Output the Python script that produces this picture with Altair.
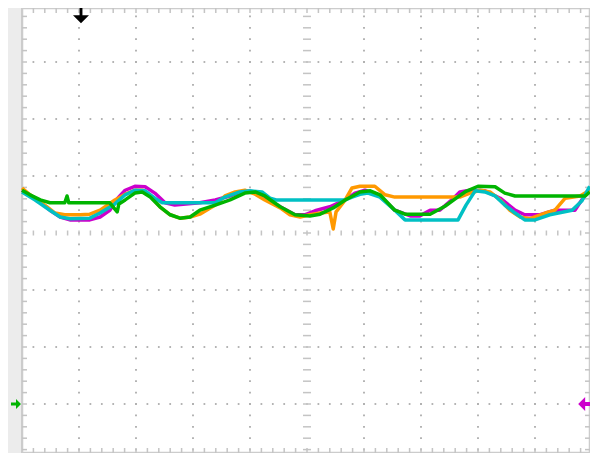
import altair as alt
import pandas as pd

# ---- trace data (time in divisions 0..10, level in divisions) ----
mag_t = [0.00, 0.23, 0.49, 0.67, 0.84, 1.19, 1.37, 1.54, 1.68, 1.81, 1.98, 2.16, 2.33, 2.51, 2.68, 3.12, 3.39, 3.65, 3.91, 4.09, 4.26, 4.53, 4.79, 4.96, 5.14, 5.40, 5.67, 5.84, 6.02, 6.28, 6.54, 6.81, 6.98, 7.16, 7.33, 7.54, 7.68, 7.86, 8.12, 8.39, 8.65, 8.82, 9.09, 9.35, 9.70, 9.82, 9.96]
mag_v = [0.75, 0.61, 0.40, 0.28, 0.23, 0.23, 0.28, 0.40, 0.61, 0.75, 0.82, 0.81, 0.70, 0.53, 0.49, 0.53, 0.58, 0.65, 0.74, 0.72, 0.61, 0.46, 0.32, 0.32, 0.39, 0.46, 0.58, 0.70, 0.75, 0.65, 0.40, 0.30, 0.30, 0.40, 0.40, 0.58, 0.72, 0.75, 0.74, 0.61, 0.40, 0.32, 0.32, 0.40, 0.40, 0.58, 0.75]

ora_t = [0.00, 0.14, 0.40, 0.58, 0.75, 1.02, 1.19, 1.37, 1.63, 1.81, 1.98, 2.11, 2.25, 2.42, 2.60, 2.77, 2.95, 3.12, 3.39, 3.56, 3.74, 3.91, 4.09, 4.26, 4.53, 4.70, 4.88, 5.05, 5.23, 5.40, 5.46, 5.51, 5.67, 5.79, 5.93, 6.19, 6.37, 6.54, 7.68, 7.86, 8.04, 8.21, 8.39, 8.56, 8.74, 8.91, 9.18, 9.35, 9.53, 9.79, 9.96]
ora_v = [0.79, 0.67, 0.49, 0.35, 0.32, 0.32, 0.33, 0.40, 0.58, 0.68, 0.75, 0.75, 0.65, 0.46, 0.32, 0.26, 0.28, 0.33, 0.49, 0.65, 0.72, 0.75, 0.68, 0.58, 0.44, 0.32, 0.28, 0.32, 0.35, 0.37, 0.07, 0.37, 0.58, 0.79, 0.82, 0.82, 0.67, 0.63, 0.63, 0.70, 0.75, 0.72, 0.58, 0.40, 0.28, 0.25, 0.35, 0.40, 0.61, 0.65, 0.75]

cya_t = [0.00, 0.23, 0.49, 0.67, 0.84, 1.19, 1.37, 1.63, 1.81, 1.98, 2.16, 2.33, 2.46, 3.39, 3.56, 3.82, 4.00, 4.21, 4.35, 4.46, 5.67, 5.79, 5.93, 6.07, 6.28, 6.54, 6.72, 7.65, 7.79, 7.95, 8.12, 8.30, 8.47, 8.65, 8.82, 9.00, 9.26, 9.65, 9.82, 9.96]
cya_v = [0.72, 0.58, 0.40, 0.28, 0.25, 0.26, 0.35, 0.51, 0.67, 0.75, 0.74, 0.61, 0.53, 0.53, 0.63, 0.72, 0.74, 0.72, 0.61, 0.58, 0.58, 0.63, 0.68, 0.70, 0.63, 0.40, 0.23, 0.23, 0.49, 0.74, 0.72, 0.65, 0.49, 0.35, 0.23, 0.23, 0.32, 0.40, 0.56, 0.82]

grn_t = [0.00, 0.14, 0.32, 0.49, 0.75, 0.79, 0.82, 1.54, 1.67, 1.70, 1.81, 1.98, 2.11, 2.25, 2.42, 2.60, 2.77, 2.95, 3.12, 3.39, 3.65, 3.91, 4.09, 4.26, 4.53, 4.79, 5.05, 5.23, 5.46, 5.67, 5.93, 6.11, 6.28, 6.54, 6.72, 7.16, 7.42, 7.60, 7.77, 8.00, 8.30, 8.47, 8.65, 9.88, 9.96]
grn_v = [0.75, 0.67, 0.58, 0.53, 0.53, 0.65, 0.53, 0.53, 0.37, 0.51, 0.58, 0.70, 0.72, 0.63, 0.46, 0.32, 0.26, 0.28, 0.40, 0.49, 0.58, 0.70, 0.72, 0.65, 0.46, 0.32, 0.30, 0.33, 0.44, 0.58, 0.72, 0.74, 0.67, 0.40, 0.33, 0.33, 0.47, 0.60, 0.72, 0.82, 0.81, 0.70, 0.65, 0.65, 0.72]

series = [("CH1", mag_t, mag_v, "#cc00cc"),
          ("CH2", ora_t, ora_v, "#ff9900"),
          ("CH3", cya_t, cya_v, "#00c0c4"),
          ("CH4", grn_t, grn_v, "#00b400")]

# ---- graticule definition (divisions, 57 px each) ----
PX = 57.0
view_w, view_h = 568, 445
t_min = 0.0
t_max = view_w / PX
v_top = 225.0 / PX
v_min = v_top - view_h / PX
major_t = [1, 2, 3, 4, 6, 7, 8, 9]
major_v = [-3, -2, -1, 1, 2, 3]
center_t, center_v = 5.0, 0.0
minor = 0.2

X = alt.Scale(domain=[t_min, t_max], nice=False, zero=False)
Y = alt.Scale(domain=[v_min, v_top], nice=False, zero=False)

def xe(f="t"):
    return alt.X(f"{f}:Q", scale=X, axis=None)

def ye(f="v"):
    return alt.Y(f"{f}:Q", scale=Y, axis=None)

# dots on major grid lines
dots = []
for t in major_t:
    for k in range(1, 40):
        v = -4 + k * minor
        if v_min < v < v_top:
            dots.append({"t": t, "v": v})
for v in major_v:
    for k in range(1, 50):
        dots.append({"t": k * minor, "v": v})
dots_df = pd.DataFrame(dots)

# ticks: center lines and frame
ticks = []
hl = 5.0 / PX / 2
vl = 8.0 / PX / 2
edge = 5.0 / PX
for k in range(1, 50):
    t = k * minor
    ticks.append({"t": t, "t2": t, "v": center_v - hl, "v2": center_v + hl})
    ticks.append({"t": t, "t2": t, "v": v_top - edge, "v2": v_top})
    ticks.append({"t": t, "t2": t, "v": v_min, "v2": v_min + edge})
for k in range(1, 40):
    v = -4 + k * minor
    if not (v_min < v < v_top):
        continue
    ticks.append({"t": center_t - vl, "t2": center_t + vl, "v": v, "v2": v})
    ticks.append({"t": t_min, "t2": t_min + edge, "v": v, "v2": v})
    ticks.append({"t": t_max - edge, "t2": t_max, "v": v, "v2": v})
ticks_df = pd.DataFrame(ticks)

strip_df = pd.DataFrame([{"t": -14 / PX, "t2": -0.02, "v": v_min, "v2": v_top}])

strip = alt.Chart(strip_df).mark_rect(color="#ececec").encode(
    x=xe("t"), x2="t2", y=ye("v"), y2="v2")

dot_layer = alt.Chart(dots_df).mark_square(size=3, color="#a8a8a8", opacity=1).encode(
    x=xe(), y=ye())

tick_layer = alt.Chart(ticks_df).mark_rule(color="#c4c4c4", strokeWidth=1.5).encode(
    x=xe("t"), x2="t2", y=ye("v"), y2="v2")

layers = [strip, dot_layer, tick_layer]
for name, ts, vs, col in series:
    df = pd.DataFrame({"t": ts, "v": vs, "ch": name})
    layers.append(alt.Chart(df).mark_line(color=col, strokeWidth=3.5, strokeJoin="round").encode(
        x=xe(), y=ye(), order="t:Q"))

# markers
ground_level = -3.0
trig_t = 1.035
trig_v = 3.82
arrow_down = "M-0.18,-1 L0.18,-1 L0.18,0 L1,0 L0,1 L-1,0 L-0.18,0 Z"
arrow_right = "M-1,-0.28 L0,-0.28 L0,-1 L1,0 L0,1 L0,0.28 L-1,0.28 Z"
arrow_left = "M1,-0.28 L0,-0.28 L0,-1 L-1,0 L0,1 L0,0.28 L1,0.28 Z"

m_trig = alt.Chart(pd.DataFrame([{"t": trig_t, "v": trig_v}])).mark_point(
    shape=arrow_down, size=256, filled=True, color="#000000", opacity=1).encode(x=xe(), y=ye())
m_gnd_l = alt.Chart(pd.DataFrame([{"t": -6 / PX, "v": ground_level}])).mark_point(
    shape=arrow_right, size=100, filled=True, color="#00b400", opacity=1).encode(x=xe(), y=ye())
m_gnd_r = alt.Chart(pd.DataFrame([{"t": 9.88, "v": ground_level}])).mark_point(
    shape=arrow_left, size=196, filled=True, color="#cc00cc", opacity=1).encode(x=xe(), y=ye())

layers += [m_trig, m_gnd_l, m_gnd_r]

chart = alt.layer(*layers).properties(
    width=view_w, height=view_h,
    autosize=alt.AutoSizeParams(type="none"),
    padding={"left": 14, "top": 0, "right": 0, "bottom": 0},
    background="#ffffff",
).configure_view(stroke="#cccccc", strokeWidth=2.5)

chart.save("out.html", embed_options={"renderer": "svg", "actions": False})
